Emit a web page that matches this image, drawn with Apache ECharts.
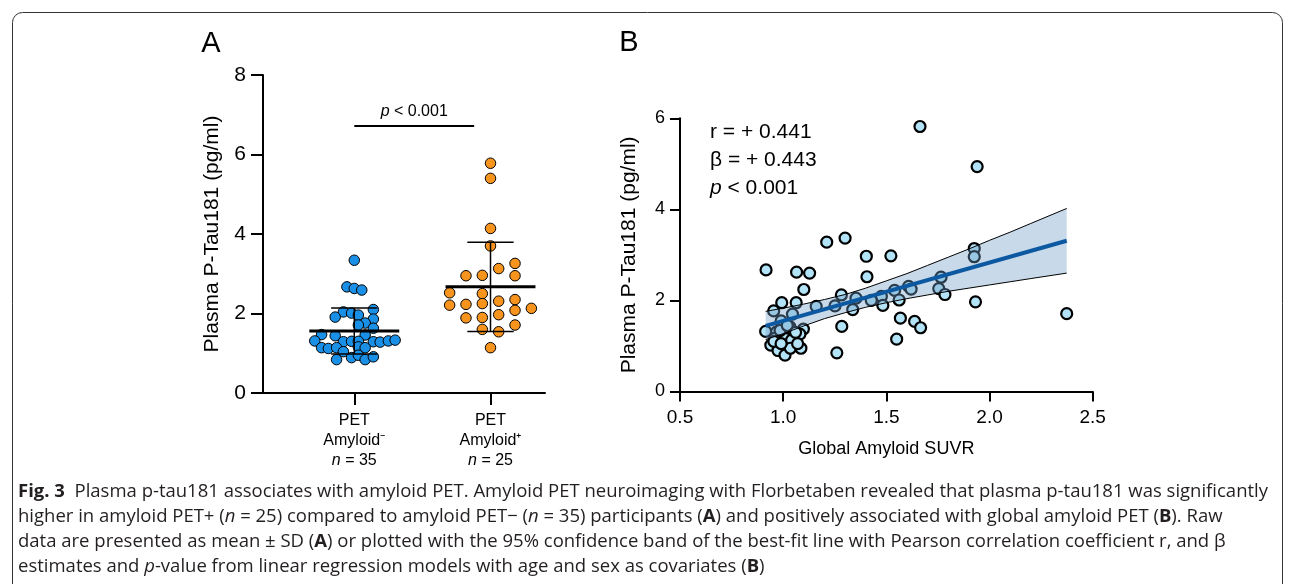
<!DOCTYPE html>
<html>
<head>
<meta charset="utf-8">
<script src="https://cdn.jsdelivr.net/npm/echarts@6.0.0/dist/echarts.min.js"></script>
<style>
  html, body { margin: 0; padding: 0; background: #fff; }
  #chart { width: 1293px; height: 584px; }
</style>
</head>
<body>
<div id="chart"></div>
<script>
// ---- Panel A: plasma p-tau181 by amyloid PET status ----
const groupLabels = ['PET\nAmyloid⁻', 'PET\nAmyloid⁺'];
const groupN = ['35', '25'];
const groupMeans = [1.56, 2.67];
const groupSD = [0.58, 1.12];
const sigBar = [1, 1.88, 6.72]; // from group, to group, height

// beeswarm: values and horizontal offsets (in group units)
const blueValues = [3.34, 2.67, 2.63, 2.59, 2.04, 2.01, 1.91, 1.96, 2.10, 1.86, 1.76, 1.71, 1.63,
  1.47, 1.44, 1.46, 1.31, 1.29, 1.30, 1.30, 1.29, 1.28, 1.31, 1.33,
  1.14, 1.12, 1.14, 1.04, 1.16, 1.14, 0.84, 0.89, 0.95, 0.84, 0.91];
const blueOffsets = [0, -0.054, 0, 0.055, -0.08, -0.02, -0.14, 0.03, 0.14, 0.14, 0.08, 0.03, 0.14,
  -0.24, -0.14, 0.08, -0.29, -0.08, -0.02, 0.03, 0.14, 0.19, 0.25, 0.30,
  -0.24, -0.19, -0.13, -0.08, 0.03, 0.08, -0.13, -0.02, 0.03, 0.08, 0.14];
const orangeValues = [5.78, 5.40, 4.14, 3.70, 3.13, 3.26, 2.95, 2.96, 2.95, 2.52, 2.50, 2.21, 2.23,
  2.25, 2.31, 2.35, 2.08, 2.13, 1.89, 1.90, 1.97, 1.71, 1.60, 1.54, 1.14];
const orangeOffsets = [0, 0, 0, 0, 0.06, 0.18, -0.18, -0.06, 0.18, -0.30, -0.06, -0.30, -0.18,
  -0.06, 0.06, 0.18, 0.18, 0.30, -0.18, -0.06, 0.06, 0.18, -0.06, 0.06, 0];

// ---- Panel B: p-tau181 vs global amyloid SUVR ----
const suvr = [0.917, 1.211, 1.300, 1.403, 1.522, 1.065, 1.128, 1.406, 1.100, 1.926,
  1.926, 1.765, 1.754, 1.784, 1.608, 1.620, 1.540, 1.562, 1.476, 1.483,
  1.427, 1.353, 1.337, 1.282, 1.251, 1.160, 1.932, 2.374, 1.568, 1.637,
  1.666, 1.550, 1.284, 1.260, 0.993, 0.954, 1.063, 1.045, 0.915, 0.990,
  0.968, 1.033, 1.098, 1.081, 0.940, 0.960, 1.012, 1.041, 0.975, 1.009,
  1.035, 1.086, 1.663, 1.940, 0.985, 0.955, 1.020, 1.060, 0.990, 1.070];
const ptau = [2.67, 3.28, 3.37, 2.97, 2.98, 2.62, 2.60, 2.52, 2.24, 3.14,
  2.96, 2.51, 2.26, 2.13, 2.31, 2.25, 2.22, 2.01, 2.09, 1.89,
  2.00, 2.05, 1.80, 2.12, 1.88, 1.87, 1.97, 1.71, 1.61, 1.54,
  1.40, 1.15, 1.43, 0.85, 1.95, 1.77, 1.95, 1.70, 1.32, 1.55,
  1.31, 1.42, 1.37, 1.26, 1.02, 1.17, 1.16, 1.13, 0.90, 0.80,
  0.95, 0.95, 5.82, 4.94, 1.34, 1.10, 1.45, 1.30, 1.05, 1.05];
const fitX = [0.915, 2.374];
const fitY = [1.44, 3.31];
const bandX = [0.915, 1.0, 1.1, 1.2, 1.3, 1.4, 1.5, 1.6, 1.7, 1.8, 1.9, 2.0, 2.1, 2.2, 2.374];
const bandUpper = [1.76, 1.83, 1.92, 2.02, 2.13, 2.27, 2.43, 2.59, 2.77, 2.95, 3.13, 3.32, 3.50, 3.69, 4.02];
const bandLower = [1.14, 1.27, 1.44, 1.60, 1.73, 1.85, 1.95, 2.04, 2.12, 2.20, 2.27, 2.34, 2.41, 2.48, 2.60];

const FONT = 'Liberation Sans';
const CAP_FONT = 'Open Sans';
const CAP_SIZE = 18.5;
const chart = echarts.init(document.getElementById('chart'));

const axisBase = {
  axisLine: { onZero: false, lineStyle: { color: '#000', width: 2 } },
  axisTick: { lineStyle: { color: '#000', width: 2 } },
  splitLine: { show: false },
  nameTextStyle: { color: '#000', fontFamily: FONT }
};

const captionRich = {
  b: { fontWeight: 'bold', fontFamily: CAP_FONT, fontSize: CAP_SIZE, color: '#231f20' },
  i: { fontStyle: 'italic', fontFamily: CAP_FONT, fontSize: CAP_SIZE, color: '#231f20' }
};
const captionLines = [
  '{b|Fig. 3}  Plasma p-tau181 associates with amyloid PET. Amyloid PET neuroimaging with Florbetaben revealed that plasma p-tau181 was significantly',
  'higher in amyloid PET+ ({i|n} = 25) compared to amyloid PET− ({i|n} = 35) participants ({b|A}) and positively associated with global amyloid PET ({b|B}). Raw',
  'data are presented as mean ± SD ({b|A}) or plotted with the 95% confidence band of the best-fit line with Pearson correlation coefficient r, and β',
  'estimates and {i|p}-value from linear regression models with age and sex as covariates ({b|B})'
];

const graphics = [
  { type: 'rect', silent: true, z: -1,
    shape: { x: 12.5, y: 12.5, width: 1270, height: 620, r: [10, 10, 0, 0] },
    style: { fill: 'none', stroke: '#333', lineWidth: 1 } },
  { type: 'text', x: 211, y: 44, style: { text: 'A', font: '29px "Liberation Sans"', fill: '#000', align: 'center', verticalAlign: 'middle' } },
  { type: 'text', x: 629, y: 43, style: { text: 'B', font: '29px "Liberation Sans"', fill: '#000', align: 'center', verticalAlign: 'middle' } },
  { type: 'text', x: 710, y: 132, style: { text: 'r = + 0.441', font: '21px "Liberation Sans"', fill: '#000', verticalAlign: 'middle' } },
  { type: 'text', x: 710, y: 160, style: { text: 'β = + 0.443', font: '21px "Liberation Sans"', fill: '#000', verticalAlign: 'middle' } },
  { type: 'text', x: 710, y: 188, style: { text: '{i|p} < 0.001', font: '21px "Liberation Sans"', fill: '#000', verticalAlign: 'middle',
    rich: { i: { fontStyle: 'italic', fontSize: 21, fontFamily: FONT } } } }
];
captionLines.forEach((line, k) => {
  graphics.push({ type: 'text', x: 18, y: 492 + k * 25,
    style: { text: line, fontFamily: CAP_FONT, fontSize: CAP_SIZE, fill: '#231f20', verticalAlign: 'middle', rich: captionRich } });
});

chart.setOption({
  animation: false,
  backgroundColor: '#fff',
  textStyle: { fontFamily: FONT },
  grid: [
    { left: 263, top: 75, width: 282, height: 318 },
    { left: 680, top: 118.3, width: 412.7, height: 273.2 }
  ],
  xAxis: [
    Object.assign({}, axisBase, {
      type: 'value', gridIndex: 0, min: 0.33, max: 2.4,
      axisTick: { customValues: [1, 2], length: 12, lineStyle: { color: '#000', width: 2 } },
      axisLabel: {
        customValues: [1, 2], margin: 18, color: '#000', fontSize: 16, lineHeight: 20, fontFamily: FONT,
        formatter: v => groupLabels[v - 1] + '\n{i|n} = ' + groupN[v - 1],
        rich: { i: { fontStyle: 'italic', fontSize: 16, lineHeight: 20, fontFamily: FONT, color: '#000' } }
      }
    }),
    Object.assign({}, axisBase, {
      type: 'value', gridIndex: 1, min: 0.5, max: 2.5, interval: 0.5,
      name: 'Global Amyloid SUVR', nameLocation: 'middle', nameGap: 49,
      nameTextStyle: { color: '#000', fontSize: 18, fontFamily: FONT },
      axisTick: { length: 10, lineStyle: { color: '#000', width: 2 } },
      axisLabel: { margin: 17, color: '#000', fontSize: 19, fontFamily: FONT, formatter: v => v.toFixed(1) }
    })
  ],
  yAxis: [
    Object.assign({}, axisBase, {
      type: 'value', gridIndex: 0, min: 0, max: 8, interval: 2,
      name: 'Plasma P-Tau181 (pg/ml)', nameLocation: 'middle', nameGap: 40,
      nameTextStyle: { color: '#000', fontSize: 21, fontFamily: FONT },
      axisTick: { length: 12, lineStyle: { color: '#000', width: 2 } },
      axisLabel: { margin: 17, color: '#000', fontSize: 21, fontFamily: FONT }
    }),
    Object.assign({}, axisBase, {
      type: 'value', gridIndex: 1, min: 0, max: 6, interval: 2,
      name: 'Plasma P-Tau181 (pg/ml)', nameLocation: 'middle', nameGap: 40,
      nameTextStyle: { color: '#000', fontSize: 21, fontFamily: FONT },
      axisTick: { length: 10, lineStyle: { color: '#000', width: 2 } },
      axisLabel: { margin: 15, color: '#000', fontSize: 18, fontFamily: FONT }
    })
  ],
  graphic: graphics,
  series: [
    {
      type: 'scatter', xAxisIndex: 0, yAxisIndex: 0, z: 2,
      symbolSize: 10.5,
      itemStyle: { color: '#1a8fe6', borderColor: '#000', borderWidth: 1, opacity: 1 },
      data: blueValues.map((v, i) => [1 + blueOffsets[i], v]),
      markLine: {
        silent: true, symbol: 'none', animation: false,
        lineStyle: { color: '#000', width: 2, type: 'solid' },
        label: {
          show: true, position: 'middle', distance: 6, color: '#000', fontSize: 16, fontFamily: FONT,
          formatter: '{i|p} < 0.001',
          rich: { i: { fontStyle: 'italic', fontSize: 16, fontFamily: FONT, color: '#000' } }
        },
        data: [[{ coord: [sigBar[0], sigBar[2]] }, { coord: [sigBar[1], sigBar[2]] }]]
      }
    },
    {
      type: 'scatter', xAxisIndex: 0, yAxisIndex: 0, z: 2,
      symbolSize: 10.5,
      itemStyle: { color: '#f7941d', borderColor: '#000', borderWidth: 1, opacity: 1 },
      data: orangeValues.map((v, i) => [2 + orangeOffsets[i], v])
    },
    {
      // mean ± SD bars
      type: 'custom', xAxisIndex: 0, yAxisIndex: 0, z: 4, silent: true,
      data: groupMeans.map((m, i) => [i + 1, m]),
      renderItem: (params, api) => {
        const i = params.dataIndex;
        const pos = i + 1, m = groupMeans[i], sd = groupSD[i];
        const c = (x, y) => api.coord([x, y]);
        const seg = (a, b, w) => ({ type: 'line', shape: { x1: a[0], y1: a[1], x2: b[0], y2: b[1] },
          style: { stroke: '#000', lineWidth: w } });
        return { type: 'group', children: [
          seg(c(pos, m + sd), c(pos, m - sd), 1.5),
          seg(c(pos - 0.17, m + sd), c(pos + 0.17, m + sd), 1.5),
          seg(c(pos - 0.17, m - sd), c(pos + 0.17, m - sd), 1.5),
          seg(c(pos - 0.33, m), c(pos + 0.33, m), 3)
        ] };
      }
    },
    {
      type: 'scatter', xAxisIndex: 1, yAxisIndex: 1, z: 2,
      symbolSize: 11,
      itemStyle: { color: '#b2e3f6', borderColor: '#000', borderWidth: 2.2, opacity: 1 },
      data: suvr.map((x, i) => [x, ptau[i]])
    },
    {
      // 95% confidence band
      type: 'custom', xAxisIndex: 1, yAxisIndex: 1, z: 3, silent: true,
      data: [[bandX[0], bandUpper[0]]],
      renderItem: (params, api) => {
        const up = bandX.map((x, k) => api.coord([x, bandUpper[k]]));
        const lo = bandX.map((x, k) => api.coord([x, bandLower[k]]));
        return { type: 'group', children: [
          { type: 'polygon', shape: { points: up.concat(lo.slice().reverse()) },
            style: { fill: 'rgba(110,155,200,0.38)' } },
          { type: 'polyline', shape: { points: up }, style: { stroke: '#000', lineWidth: 1, fill: null } },
          { type: 'polyline', shape: { points: lo }, style: { stroke: '#000', lineWidth: 1, fill: null } }
        ] };
      }
    },
    {
      type: 'line', xAxisIndex: 1, yAxisIndex: 1, z: 5, silent: true,
      symbol: 'none',
      lineStyle: { color: '#0d59a1', width: 4 },
      data: fitX.map((x, i) => [x, fitY[i]])
    }
  ]
});
</script>
</body>
</html>
